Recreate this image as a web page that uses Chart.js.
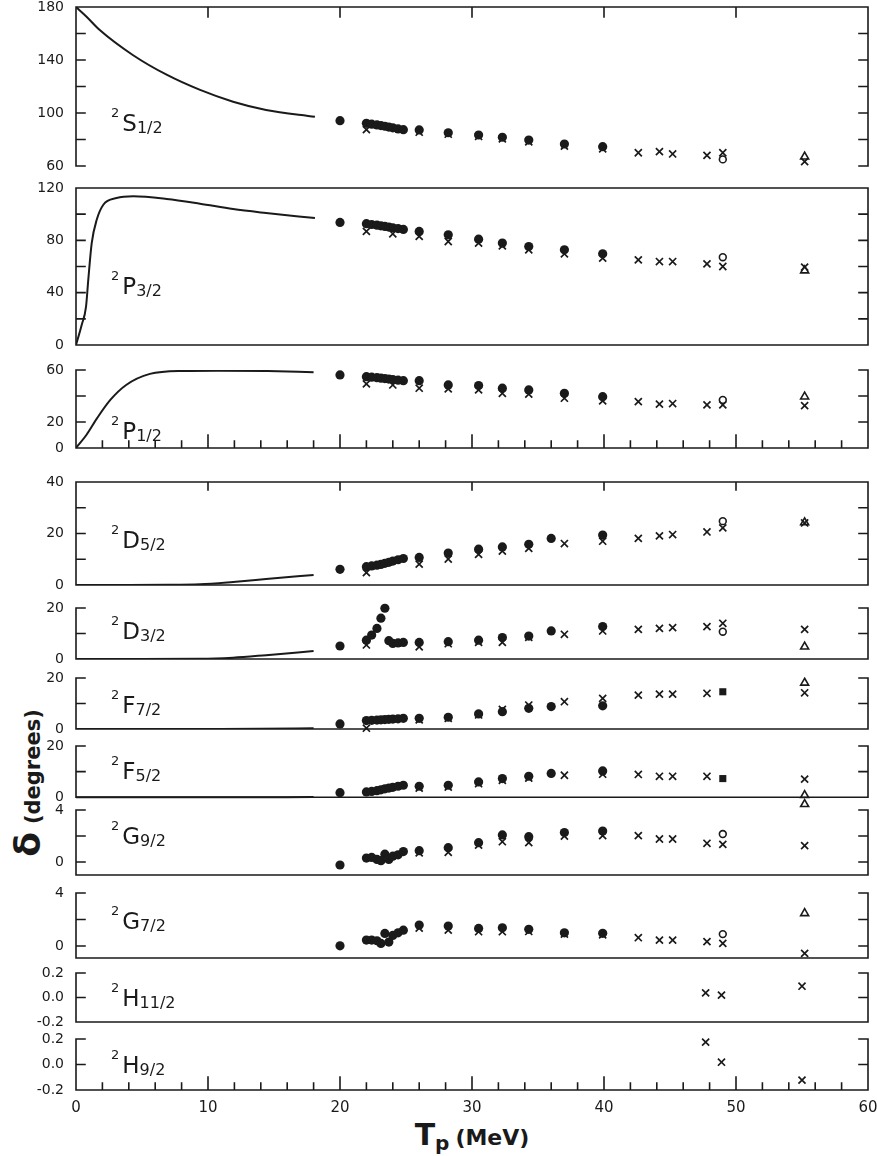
<!DOCTYPE html>
<html>
<head>
<meta charset="utf-8">
<script src="https://cdn.jsdelivr.net/npm/chart.js@4.4.0/dist/chart.umd.min.js"></script>
<style>
  body { margin: 0; background: #fff; }
  #fig { position: relative; width: 877px; height: 1156px; overflow: hidden; background: #fff;
         font-family: 'DejaVu Sans', sans-serif; color: #1a1a1a; }
  #fig canvas { position: absolute; left: 0; }
  .lbl { position: absolute; left: 111px; font-size: 23px; line-height: 23px; white-space: nowrap; }
  .lbl sup { font-size: 13px; line-height: 0; vertical-align: 14px; margin-right: 3px; }
  .lbl sub { font-size: 16px; line-height: 0; vertical-align: -2px; }
  #xtitle { position: absolute; left: 372px; width: 200px; top: 1120px; text-align: center;
            font-weight: bold; font-size: 22px; line-height: 30px; white-space: nowrap; }
  #xtitle .T { font-size: 30px; }
  #xtitle .p { font-size: 20px; vertical-align: -5px; line-height: 0; margin-right: 6px; }
  #ytitle { position: absolute; left: 27px; top: 783px; transform: translate(-50%, -50%) rotate(-90deg);
            white-space: nowrap; font-weight: bold; font-size: 21px; }
  #ytitle .d { font-size: 36px; margin-right: 8px; }
</style>
</head>
<body>
<div id="fig">
  <div id="ytitle"><span class="d">δ</span>(degrees)</div>
  <div id="xtitle"><span class="T">T</span><span class="p">p</span>(MeV)</div>
</div>
<script>
// x axis
const X_LABELS = [0, 10, 20, 30, 40, 50, 60];
const X_MINOR = [0, 2, 4, 6, 8, 10, 12, 14, 16, 18, 20, 22, 24, 26, 28, 30, 32, 34, 36, 38, 40,
                 42, 44, 46, 48, 50, 52, 54, 56, 58, 60];

// energies (MeV) of the measured points
const E_DOT = [20.0, 22.0, 22.4, 22.8, 23.1, 23.4, 23.7, 24.0, 24.4, 24.8, 26.0, 28.2, 30.5, 32.3, 34.3, 36.0, 37.0, 39.9];
const E_CROSS = [22.0, 24.0, 26.0, 28.2, 30.5, 32.3, 34.3, 37.0, 39.9, 42.6, 44.2, 45.2, 47.8, 49.0, 55.2];
const E_OPEN = [49.0];
const E_SQ = [49.0];
const E_TRI = [55.2];
const E_TRI2 = [55.2, 55.2];
const E_H = [47.7, 48.9, 55.0];

// 2S1/2
const S12_CURVE_X = [0, 0.8, 1.8, 4.3, 6.9, 9.4, 11.9, 14.4, 18.1];
const S12_CURVE_Y = [180, 172.7, 162.6, 143.8, 128.7, 117.4, 108.5, 102.3, 97.2];
const S12_DOT = [94.2, 92.2, 91.6, 91.0, 90.5, 90.0, 89.4, 88.8, 88.0, 87.4, 87.2, 85.1, 83.4, 81.7, 79.6, null, 76.6, 74.6];
const S12_CROSS = [87.5, null, 85.5, 84.0, 82.3, 80.5, 78.3, 75.0, 73.0, 70.0, 70.8, 69.1, 68.0, 70.0, 63.3];
const S12_OPEN = [65.0];
const S12_TRI = [67.0];
const S12_YTICKS = [60, 80, 100, 120, 140, 160, 180];
const S12_YLABELS = [60, 100, 140, 180];

// 2P3/2
const P32_CURVE_X = [0, 0.43, 0.76, 0.93, 1.19, 1.57, 2.07, 3.08, 4.34, 6.87, 9.39, 11.9, 14.4, 18.1];
const P32_CURVE_Y = [0, 15.3, 29.4, 49.8, 77.9, 95.7, 107.2, 112.3, 113.6, 111.6, 108.0, 103.9, 100.9, 97.0];
const P32_DOT = [93.7, 92.7, 92.1, 91.6, 91.1, 90.6, 90.1, 89.6, 89.0, 88.3, 86.8, 84.2, 80.9, 77.9, 75.3, null, 72.8, 69.7];
const P32_CROSS = [86.8, 85.0, 83.0, 79.1, 77.9, 75.8, 72.8, 69.7, 66.4, 65.1, 63.8, 63.8, 62.0, 60.0, 59.5];
const P32_OPEN = [67.1];
const P32_TRI = [56.9];
const P32_YTICKS = [0, 20, 40, 60, 80, 100, 120];
const P32_YLABELS = [0, 40, 80, 120];

// 2P1/2
const P12_CURVE_X = [0, 0.8, 1.6, 2.6, 3.8, 5.6, 8.1, 10.7, 14.5, 18.0];
const P12_CURVE_Y = [0, 10.2, 23.0, 37.0, 48.5, 57.0, 59.3, 59.5, 59.2, 58.3];
const P12_DOT = [56.2, 54.9, 54.5, 54.1, 53.7, 53.4, 53.0, 52.6, 52.2, 51.8, 51.8, 48.5, 48.0, 46.0, 44.7, null, 42.1, 39.5];
const P12_CROSS = [49.3, 48.5, 46.0, 45.5, 44.7, 42.1, 41.4, 38.3, 36.2, 35.7, 33.7, 34.2, 33.2, 33.2, 32.6];
const P12_OPEN = [37.0];
const P12_TRI = [39.5];
const P12_YTICKS = [0, 20, 40, 60];
const P12_YLABELS = [0, 20, 60];

// 2D5/2
const D52_CURVE_X = [0, 4, 7, 9.4, 11.9, 14.4, 18.0];
const D52_CURVE_Y = [0, 0, 0.05, 0.3, 1.2, 2.3, 3.9];
const D52_DOT = [6.1, 7.1, 7.4, 7.7, 8.0, 8.4, 8.8, 9.3, 9.8, 10.3, 10.7, 12.4, 13.9, 14.8, 15.8, 18.1, null, 19.4];
const D52_CROSS = [4.8, null, 8.1, 10.1, 11.9, 13.2, 14.2, 16.1, 17.0, 18.1, 19.1, 19.6, 20.6, 22.2, 24.1];
const D52_OPEN = [24.8];
const D52_TRI = [24.3];
const D52_YTICKS = [0, 10, 20, 30, 40];
const D52_YLABELS = [0, 20, 40];

// 2D3/2
const D32_CURVE_X = [0, 5, 9.4, 11.9, 14.4, 18.0];
const D32_CURVE_Y = [0, 0, 0.05, 0.5, 1.5, 3.1];
const D32_DOT = [5.1, 7.4, 9.4, 12.0, 16.0, 19.9, 7.2, 6.1, 6.3, 6.5, 6.5, 6.8, 7.4, 8.4, 9.0, 11.0, null, 12.7];
const D32_CROSS = [5.5, null, 4.8, 6.0, 6.5, 6.5, 8.5, 9.7, 11.0, 11.6, 12.0, 12.3, 12.7, 14.0, 11.6];
const D32_OPEN = [10.7];
const D32_TRI = [4.8];
const D32_YTICKS = [0, 10, 20];
const D32_YLABELS = [0, 20];

// 2F7/2
const F72_CURVE_X = [0, 10, 14, 18.0];
const F72_CURVE_Y = [0, 0, 0.05, 0.3];
const F72_DOT = [2.0, 3.3, 3.4, 3.5, 3.6, 3.7, 3.8, 3.9, 4.0, 4.2, 4.2, 4.6, 5.9, 6.8, 8.1, 8.8, null, 9.1];
const F72_CROSS = [0.3, null, 3.6, 4.2, 5.5, 7.7, 9.4, 10.7, 12.0, 13.3, 13.7, 13.7, 14.0, null, 14.2];
const F72_SQ = [14.6];
const F72_TRI = [18.1];
const F72_YTICKS = [0, 10, 20];
const F72_YLABELS = [0, 20];

// 2F5/2
const F52_CURVE_X = [0, 12, 18.0];
const F52_CURVE_Y = [0, 0, 0.1];
const F52_DOT = [1.8, 2.1, 2.3, 2.6, 2.9, 3.3, 3.6, 3.9, 4.3, 4.7, 4.3, 4.7, 6.0, 7.3, 8.2, 9.3, null, 10.3];
const F52_CROSS = [null, null, 3.6, 4.0, 5.3, 6.6, 7.5, 8.6, 9.0, 8.9, 8.2, 8.2, 8.2, null, 7.1];
const F52_SQ = [7.3];
const F52_TRI = [0.8, -2.7];
const F52_YTICKS = [0, 10, 20];
const F52_YLABELS = [0, 20];

// 2G9/2
const G92_DOT = [-0.23, 0.3, 0.35, 0.2, 0.1, 0.6, 0.2, 0.45, 0.55, 0.8, 0.87, 1.1, 1.49, 2.08, 1.95, null, 2.26, 2.38];
const G92_CROSS = [null, null, 0.7, 0.75, 1.3, 1.56, 1.49, 2.0, 2.03, 2.03, 1.77, 1.77, 1.44, 1.36, 1.26];
const G92_OPEN = [2.15];
const G92_YTICKS = [0, 2, 4];
const G92_YLABELS = [0, 4];

// 2G7/2
const G72_DOT = [0.02, 0.45, 0.45, 0.4, 0.2, 0.95, 0.3, 0.8, 1.0, 1.2, 1.58, 1.51, 1.33, 1.38, 1.26, null, 1.0, 0.96];
const G72_CROSS = [null, null, 1.35, 1.2, 1.08, 1.08, 1.1, 0.9, 0.85, 0.63, 0.45, 0.45, 0.33, 0.2, -0.55];
const G72_OPEN = [0.9];
const G72_TRI = [2.47];
const G72_YTICKS = [0, 2, 4];
const G72_YLABELS = [0, 4];

// 2H11/2, 2H9/2
const H112_CROSS = [0.038, 0.019, 0.092];
const H92_CROSS = [0.175, 0.018, -0.123];
const H_YTICKS = [-0.2, 0, 0.2];
const H_YLABELS = [-0.2, 0, 0.2];

const INK = '#1a1a1a';
const PAD = 12;

// top/bottom: pixel rows of max/min of the scale; frameMin: value where the bottom frame line sits
const PANELS = [
  { name: 'S', sub: '1/2', top: 7, bottom: 166, min: 60, max: 180, lblTop: 115,
    yTicks: S12_YTICKS, yLabels: S12_YLABELS, curve: [S12_CURVE_X, S12_CURVE_Y],
    dot: S12_DOT, cross: S12_CROSS, open: S12_OPEN, tri: S12_TRI,
    frameTop: true, frameBottom: false, topTicks: 10 },
  { name: 'P', sub: '3/2', top: 188, bottom: 345, min: 0, max: 120, lblTop: 278,
    yTicks: P32_YTICKS, yLabels: P32_YLABELS, curve: [P32_CURVE_X, P32_CURVE_Y],
    dot: P32_DOT, cross: P32_CROSS, open: P32_OPEN, tri: P32_TRI,
    frameTop: true, frameBottom: true },
  { name: 'P', sub: '1/2', top: 370, bottom: 448, min: 0, max: 60, lblTop: 423,
    yTicks: P12_YTICKS, yLabels: P12_YLABELS, curve: [P12_CURVE_X, P12_CURVE_Y],
    dot: P12_DOT, cross: P12_CROSS, open: P12_OPEN, tri: P12_TRI,
    frameTop: false, frameBottom: true, bottomTicks: true },
  { name: 'D', sub: '5/2', top: 482, bottom: 585, min: 0, max: 40, lblTop: 532,
    yTicks: D52_YTICKS, yLabels: D52_YLABELS, curve: [D52_CURVE_X, D52_CURVE_Y],
    dot: D52_DOT, cross: D52_CROSS, open: D52_OPEN, tri: D52_TRI,
    frameTop: true, frameBottom: true, topTicks: 8 },
  { name: 'D', sub: '3/2', top: 608, bottom: 659, min: 0, max: 20, lblTop: 623,
    yTicks: D32_YTICKS, yLabels: D32_YLABELS, curve: [D32_CURVE_X, D32_CURVE_Y],
    dot: D32_DOT, cross: D32_CROSS, open: D32_OPEN, tri: D32_TRI,
    frameTop: false, frameBottom: true },
  { name: 'F', sub: '7/2', top: 678, bottom: 729, min: 0, max: 20, lblTop: 697,
    yTicks: F72_YTICKS, yLabels: F72_YLABELS, curve: [F72_CURVE_X, F72_CURVE_Y],
    dot: F72_DOT, cross: F72_CROSS, sq: F72_SQ, tri: F72_TRI,
    frameTop: false, frameBottom: true },
  { name: 'F', sub: '5/2', top: 746, bottom: 805, min: -3, max: 20, frameMin: 0, lblTop: 763,
    yTicks: F52_YTICKS, yLabels: F52_YLABELS, curve: [F52_CURVE_X, F52_CURVE_Y],
    dot: F52_DOT, cross: F52_CROSS, sq: F52_SQ, tri: F52_TRI, triX: E_TRI2,
    frameTop: false, frameBottom: true },
  { name: 'G', sub: '9/2', top: 810, bottom: 875, min: -1, max: 4, lblTop: 828,
    yTicks: G92_YTICKS, yLabels: G92_YLABELS,
    dot: G92_DOT, cross: G92_CROSS, open: G92_OPEN,
    frameTop: false, frameBottom: true },
  { name: 'G', sub: '7/2', top: 893, bottom: 958, min: -0.9, max: 4, lblTop: 913,
    yTicks: G72_YTICKS, yLabels: G72_YLABELS,
    dot: G72_DOT, cross: G72_CROSS, open: G72_OPEN, tri: G72_TRI,
    frameTop: false, frameBottom: true },
  { name: 'H', sub: '11/2', top: 973, bottom: 1022, min: -0.2, max: 0.2, lblTop: 990, dec: 1,
    yTicks: H_YTICKS, yLabels: H_YLABELS, cross: H112_CROSS, crossX: E_H,
    frameTop: false, frameBottom: true },
  { name: 'H', sub: '9/2', top: 1039, bottom: 1090, min: -0.2, max: 0.2, lblTop: 1057, dec: 1,
    yTicks: H_YTICKS, yLabels: H_YLABELS, cross: H92_CROSS, crossX: E_H,
    frameTop: false, frameBottom: true, bottomTicks: true, xAxis: true }
];

function pts(xs, ys) {
  const out = [];
  xs.forEach((x, i) => {
    if (ys[i] !== null && ys[i] !== undefined) out.push({ x: x, y: ys[i] });
  });
  return out;
}

// frame, inward ticks on both y sides and on chosen x edges
const framePlugin = {
  id: 'frame',
  beforeDatasetsDraw(chart, args, o) {
    const ctx = chart.ctx;
    const a = chart.chartArea;
    const x = chart.scales.x;
    const y = chart.scales.y;
    const bot = o.frameMin !== undefined ? y.getPixelForValue(o.frameMin) : a.bottom;
    ctx.save();
    ctx.strokeStyle = INK;
    ctx.lineWidth = 1.6;
    ctx.lineCap = 'square';
    ctx.beginPath();
    ctx.moveTo(a.left, a.top); ctx.lineTo(a.left, bot);
    ctx.moveTo(a.right, a.top); ctx.lineTo(a.right, bot);
    if (o.frameTop) { ctx.moveTo(a.left, a.top); ctx.lineTo(a.right, a.top); }
    if (o.frameBottom) { ctx.moveTo(a.left, bot); ctx.lineTo(a.right, bot); }
    o.yTicks.forEach(v => {
      const py = y.getPixelForValue(v);
      ctx.moveTo(a.left, py); ctx.lineTo(a.left + 9, py);
      ctx.moveTo(a.right, py); ctx.lineTo(a.right - 9, py);
    });
    if (o.topTicks) {
      X_LABELS.forEach(v => {
        const px = x.getPixelForValue(v);
        ctx.moveTo(px, a.top); ctx.lineTo(px, a.top + o.topTicks);
      });
    }
    if (o.bottomTicks) {
      X_MINOR.forEach(v => {
        const px = x.getPixelForValue(v);
        ctx.moveTo(px, bot); ctx.lineTo(px, bot - (v % 10 === 0 ? 13 : 7));
      });
    }
    ctx.stroke();
    ctx.restore();
  }
};

const fig = document.getElementById('fig');

PANELS.forEach(p => {
  const extra = p.xAxis ? 40 : 0;
  const canvas = document.createElement('canvas');
  canvas.width = 877;
  canvas.height = (p.bottom - p.top) + PAD * 2 + extra;
  canvas.style.top = (p.top - PAD) + 'px';
  fig.appendChild(canvas);

  const lbl = document.createElement('div');
  lbl.className = 'lbl';
  lbl.style.top = (p.lblTop - 3) + 'px';
  lbl.innerHTML = '<sup>2</sup>' + p.name + '<sub>' + p.sub + '</sub>';
  fig.appendChild(lbl);

  const datasets = [];
  if (p.dot) datasets.push({ data: pts(E_DOT, p.dot), pointStyle: 'circle', pointRadius: 4.6,
    backgroundColor: INK, borderColor: INK, borderWidth: 0, order: 0, clip: false });
  if (p.sq) datasets.push({ data: pts(E_SQ, p.sq), pointStyle: 'rect', pointRadius: 5,
    backgroundColor: INK, borderColor: INK, borderWidth: 0, order: 0, clip: false });
  if (p.open) datasets.push({ data: pts(E_OPEN, p.open), pointStyle: 'circle', pointRadius: 3.4,
    backgroundColor: 'rgba(255,255,255,0)', borderColor: INK, borderWidth: 1.6, order: 1, clip: false });
  if (p.tri) datasets.push({ data: pts(p.triX || E_TRI, p.tri), pointStyle: 'triangle', pointRadius: 4.6,
    backgroundColor: 'rgba(255,255,255,0)', borderColor: INK, borderWidth: 1.6, order: 1, clip: false });
  if (p.cross) datasets.push({ data: pts(p.crossX || E_CROSS, p.cross), pointStyle: 'crossRot', pointRadius: 5,
    borderColor: INK, borderWidth: 1.7, order: 2, clip: false });
  if (p.curve) datasets.push({ type: 'line', data: pts(p.curve[0], p.curve[1]), borderColor: INK,
    borderWidth: 2, pointRadius: 0, cubicInterpolationMode: 'monotone', fill: false, order: 3 });

  new Chart(canvas, {
    type: 'scatter',
    data: { datasets: datasets },
    options: {
      responsive: false,
      animation: false,
      events: [],
      layout: { padding: { left: 0, right: 9, top: PAD, bottom: PAD } },
      plugins: {
        legend: { display: false },
        tooltip: { enabled: false },
        frame: p
      },
      scales: {
        x: {
          type: 'linear', min: 0, max: 60,
          display: !!p.xAxis,
          afterBuildTicks: s => { s.ticks = X_LABELS.map(v => ({ value: v })); },
          afterFit: s => { s.height = extra; s.paddingLeft = 0; s.paddingRight = 0; },
          grid: { display: false, drawTicks: false },
          border: { display: false },
          ticks: { color: INK, font: { family: "'DejaVu Sans'", size: 15 }, padding: 9, maxRotation: 0 }
        },
        y: {
          type: 'linear', min: p.min, max: p.max,
          afterBuildTicks: s => { s.ticks = p.yTicks.map(v => ({ value: v })); },
          afterFit: s => { s.width = 76; s.paddingTop = 0; s.paddingBottom = 0; },
          grid: { display: false, drawTicks: false },
          border: { display: false },
          ticks: {
            color: INK,
            font: { family: "'DejaVu Sans'", size: 14 },
            padding: 12,
            autoSkip: false,
            callback: v => p.yLabels.includes(v) ? (p.dec ? v.toFixed(p.dec) : String(v)) : ''
          }
        }
      }
    },
    plugins: [framePlugin]
  });
});
</script>
</body>
</html>
